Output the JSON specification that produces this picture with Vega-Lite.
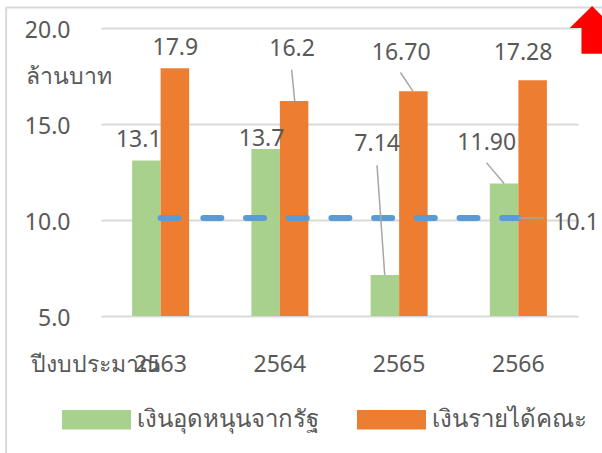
{
  "$schema": "https://vega.github.io/schema/vega-lite/v6.json",
  "width": 477,
  "height": 288,
  "autosize": {"type": "none"},
  "padding": {"left": 101, "top": 28, "right": 24, "bottom": 137},
  "background": "white",
  "config": {
    "font": "Noto Sans",
    "view": {"stroke": null},
    "text": {"fontSize": 23, "fill": "#595959", "font": "Noto Sans"}
  },
  "datasets": {
    "budget": [
      {"year": "2563", "series": "เงินอุดหนุนจากรัฐ", "value": 13.1, "label": "13.1"},
      {"year": "2563", "series": "เงินรายได้คณะ", "value": 17.9, "label": "17.9"},
      {"year": "2564", "series": "เงินอุดหนุนจากรัฐ", "value": 13.7, "label": "13.7"},
      {"year": "2564", "series": "เงินรายได้คณะ", "value": 16.2, "label": "16.2"},
      {"year": "2565", "series": "เงินอุดหนุนจากรัฐ", "value": 7.14, "label": "7.14"},
      {"year": "2565", "series": "เงินรายได้คณะ", "value": 16.7, "label": "16.70"},
      {"year": "2566", "series": "เงินอุดหนุนจากรัฐ", "value": 11.9, "label": "11.90"},
      {"year": "2566", "series": "เงินรายได้คณะ", "value": 17.28, "label": "17.28"}
    ],
    "mean": [
      {"year": "2563", "avg": 10.1},
      {"year": "2564", "avg": 10.1},
      {"year": "2565", "avg": 10.1},
      {"year": "2566", "avg": 10.1}
    ],
    "frame": [{"part": "chart area"}]
  },
  "layer": [
    {
      "data": {"name": "budget"},
      "mark": {"type": "bar"},
      "encoding": {
        "x": {
          "field": "year", "type": "nominal",
          "scale": {"paddingInner": 0.522, "paddingOuter": 0.261},
          "axis": {
            "title": "ปีงบประมาณ",
            "labelAngle": 0,
            "labelFontSize": 23,
            "labelColor": "#595959",
            "labelBaseline": "alphabetic",
            "labelPadding": 55,
            "domain": false,
            "ticks": false,
            "titleX": -71,
            "titleY": 55,
            "titleAlign": "left",
            "titleBaseline": "alphabetic",
            "titleFontSize": 23,
            "titleFontWeight": "normal",
            "titleColor": "#595959"
          }
        },
        "xOffset": {
          "field": "series", "type": "nominal",
          "scale": {"domain": ["เงินอุดหนุนจากรัฐ", "เงินรายได้คณะ"], "paddingInner": 0, "paddingOuter": 0}
        },
        "y": {
          "field": "value", "type": "quantitative",
          "scale": {"domain": [5, 20], "zero": false, "nice": false},
          "axis": {
            "values": [5, 10, 15, 20],
            "format": ".1f",
            "grid": true,
            "gridColor": "#D9D9D9",
            "gridWidth": 2,
            "domain": false,
            "ticks": false,
            "labelFontSize": 23,
            "labelColor": "#595959",
            "labelPadding": 31,
            "labelOffset": 2,
            "title": "ล้านบาท",
            "titleAngle": 0,
            "titleAlign": "left",
            "titleBaseline": "alphabetic",
            "titleX": -76,
            "titleY": 55,
            "titleFontSize": 23,
            "titleFontWeight": "normal",
            "titleColor": "#595959"
          }
        },
        "y2": {"datum": 5},
        "color": {
          "field": "series", "type": "nominal",
          "scale": {"domain": ["เงินอุดหนุนจากรัฐ", "เงินรายได้คณะ"], "range": ["#A9D18E", "#ED7D31"]},
          "legend": {
            "title": null,
            "orient": "none",
            "legendX": -39,
            "legendY": 357,
            "direction": "horizontal",
            "symbolType": "M-1,-0.28H1V0.28H-1Z",
            "symbolSize": 4761,
            "symbolStrokeWidth": 0,
            "symbolOpacity": 1,
            "labelFontSize": 24,
            "labelColor": "#595959",
            "labelOffset": 6,
            "labelLimit": 400,
            "columnPadding": 38
          }
        }
      }
    },
    {
      "data": {"name": "mean"},
      "mark": {"type": "line", "color": "#5B9BD5", "strokeWidth": 6, "strokeDash": [18, 24.7], "strokeCap": "round"},
      "encoding": {
        "x": {"field": "year", "type": "nominal"},
        "y": {"field": "avg", "type": "quantitative"}
      }
    },
    {
      "data": {"name": "mean"},
      "transform": [{"filter": "datum.year === '2566'"}],
      "mark": {"type": "rule", "color": "#A6A6A6", "strokeWidth": 1.5, "x2Offset": 25},
      "encoding": {
        "x": {"field": "year", "type": "nominal", "bandPosition": 0.5},
        "x2": {"field": "year", "bandPosition": 0.5},
        "y": {"field": "avg", "type": "quantitative"}
      }
    },
    {
      "data": {"name": "mean"},
      "transform": [{"filter": "datum.year === '2566'"}],
      "mark": {"type": "text", "align": "left", "baseline": "alphabetic", "dx": 35, "dy": 12},
      "encoding": {
        "x": {"field": "year", "type": "nominal"},
        "y": {"field": "avg", "type": "quantitative"},
        "text": {"field": "avg", "format": ".1f"}
      }
    },
    {
      "data": {"name": "budget"},
      "transform": [{"filter": "datum.year === '2564' && datum.series === 'เงินรายได้คณะ'"}],
      "mark": {"type": "rule", "color": "#A6A6A6", "strokeWidth": 1.5, "xOffset": 11.8, "yOffset": -31.2, "x2Offset": 14.8, "y2Offset": 0},
      "encoding": {
        "x": {"field": "year", "type": "nominal", "bandPosition": 0.5},
        "x2": {"field": "year", "bandPosition": 0.5},
        "y": {"field": "value", "type": "quantitative"},
        "y2": {"field": "value"}
      }
    },
    {
      "data": {"name": "budget"},
      "transform": [{"filter": "datum.year === '2565' && datum.series === 'เงินอุดหนุนจากรัฐ'"}],
      "mark": {"type": "rule", "color": "#A6A6A6", "strokeWidth": 1.5, "xOffset": -22.1, "yOffset": -109.6, "x2Offset": -14.4, "y2Offset": 0},
      "encoding": {
        "x": {"field": "year", "type": "nominal", "bandPosition": 0.5},
        "x2": {"field": "year", "bandPosition": 0.5},
        "y": {"field": "value", "type": "quantitative"},
        "y2": {"field": "value"}
      }
    },
    {
      "data": {"name": "budget"},
      "transform": [{"filter": "datum.year === '2565' && datum.series === 'เงินรายได้คณะ'"}],
      "mark": {"type": "rule", "color": "#A6A6A6", "strokeWidth": 1.5, "xOffset": 1.3, "yOffset": -18.9, "x2Offset": 13.9, "y2Offset": 0},
      "encoding": {
        "x": {"field": "year", "type": "nominal", "bandPosition": 0.5},
        "x2": {"field": "year", "bandPosition": 0.5},
        "y": {"field": "value", "type": "quantitative"},
        "y2": {"field": "value"}
      }
    },
    {
      "data": {"name": "budget"},
      "transform": [{"filter": "datum.year === '2566' && datum.series === 'เงินอุดหนุนจากรัฐ'"}],
      "mark": {"type": "rule", "color": "#A6A6A6", "strokeWidth": 1.5, "xOffset": -31.9, "yOffset": -20.9, "x2Offset": -14.3, "y2Offset": 0},
      "encoding": {
        "x": {"field": "year", "type": "nominal", "bandPosition": 0.5},
        "x2": {"field": "year", "bandPosition": 0.5},
        "y": {"field": "value", "type": "quantitative"},
        "y2": {"field": "value"}
      }
    },
    {
      "data": {"name": "budget"},
      "transform": [{"filter": "datum.year === '2563' && datum.series === 'เงินอุดหนุนจากรัฐ'"}],
      "mark": {"type": "text", "align": "center", "baseline": "alphabetic", "dx": -7.6, "dy": -13.4},
      "encoding": {
        "x": {"field": "year", "type": "nominal"}, "xOffset": {"field": "series"},
        "y": {"field": "value", "type": "quantitative"}, "text": {"field": "label"}
      }
    },
    {
      "data": {"name": "budget"},
      "transform": [{"filter": "datum.year === '2563' && datum.series === 'เงินรายได้คณะ'"}],
      "mark": {"type": "text", "align": "center", "baseline": "alphabetic", "dx": 0.5, "dy": -12.9},
      "encoding": {
        "x": {"field": "year", "type": "nominal"}, "xOffset": {"field": "series"},
        "y": {"field": "value", "type": "quantitative"}, "text": {"field": "label"}
      }
    },
    {
      "data": {"name": "budget"},
      "transform": [{"filter": "datum.year === '2564' && datum.series === 'เงินอุดหนุนจากรัฐ'"}],
      "mark": {"type": "text", "align": "center", "baseline": "alphabetic", "dx": -4, "dy": -2.6},
      "encoding": {
        "x": {"field": "year", "type": "nominal"}, "xOffset": {"field": "series"},
        "y": {"field": "value", "type": "quantitative"}, "text": {"field": "label"}
      }
    },
    {
      "data": {"name": "budget"},
      "transform": [{"filter": "datum.year === '2564' && datum.series === 'เงินรายได้คณะ'"}],
      "mark": {"type": "text", "align": "center", "baseline": "alphabetic", "dx": -2, "dy": -44.5},
      "encoding": {
        "x": {"field": "year", "type": "nominal"}, "xOffset": {"field": "series"},
        "y": {"field": "value", "type": "quantitative"}, "text": {"field": "label"}
      }
    },
    {
      "data": {"name": "budget"},
      "transform": [{"filter": "datum.year === '2565' && datum.series === 'เงินอุดหนุนจากรัฐ'"}],
      "mark": {"type": "text", "align": "center", "baseline": "alphabetic", "dx": -7.7, "dy": -123.9},
      "encoding": {
        "x": {"field": "year", "type": "nominal"}, "xOffset": {"field": "series"},
        "y": {"field": "value", "type": "quantitative"}, "text": {"field": "label"}
      }
    },
    {
      "data": {"name": "budget"},
      "transform": [{"filter": "datum.year === '2565' && datum.series === 'เงินรายได้คณะ'"}],
      "mark": {"type": "text", "align": "center", "baseline": "alphabetic", "dx": -12.2, "dy": -31.4},
      "encoding": {
        "x": {"field": "year", "type": "nominal"}, "xOffset": {"field": "series"},
        "y": {"field": "value", "type": "quantitative"}, "text": {"field": "label"}
      }
    },
    {
      "data": {"name": "budget"},
      "transform": [{"filter": "datum.year === '2566' && datum.series === 'เงินอุดหนุนจากรัฐ'"}],
      "mark": {"type": "text", "align": "center", "baseline": "alphabetic", "dx": -17.4, "dy": -33.9},
      "encoding": {
        "x": {"field": "year", "type": "nominal"}, "xOffset": {"field": "series"},
        "y": {"field": "value", "type": "quantitative"}, "text": {"field": "label"}
      }
    },
    {
      "data": {"name": "budget"},
      "transform": [{"filter": "datum.year === '2566' && datum.series === 'เงินรายได้คณะ'"}],
      "mark": {"type": "text", "align": "center", "baseline": "alphabetic", "dx": -9.6, "dy": -20.5},
      "encoding": {
        "x": {"field": "year", "type": "nominal"}, "xOffset": {"field": "series"},
        "y": {"field": "value", "type": "quantitative"}, "text": {"field": "label"}
      }
    },
    {
      "data": {"name": "frame"},
      "mark": {"type": "rule", "color": "#D9D9D9", "strokeWidth": 2, "xOffset": -126, "x2Offset": 70, "clip": false},
      "encoding": {
        "x": {"datum": "2563", "bandPosition": 0},
        "x2": {"datum": "2566", "bandPosition": 1},
        "y": {"datum": 21.07}
      }
    },
    {
      "data": {"name": "frame"},
      "mark": {"type": "rule", "color": "#D9D9D9", "strokeWidth": 2, "xOffset": -126, "clip": false},
      "encoding": {
        "x": {"datum": "2563", "bandPosition": 0},
        "y": {"datum": 21.07},
        "y2": {"datum": -3}
      }
    },
    {
      "data": {"name": "frame"},
      "mark": {"type": "point", "shape": "M0,-1L0.937,-0.076L0.445,-0.076L0.445,1L-0.445,1L-0.445,-0.076L-0.937,-0.076Z", "size": 2266, "filled": true, "color": "#FF0000", "opacity": 1, "strokeWidth": 0, "xOffset": 73.7, "clip": false},
      "encoding": {"x": {"datum": "2566"}, "y": {"datum": 19.9}}
    }
  ]
}
